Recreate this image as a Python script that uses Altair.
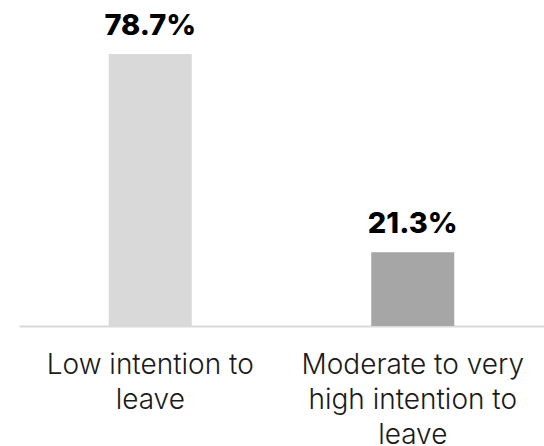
import altair as alt
import pandas as pd

categories = ["Low intention to|leave", "Moderate to very|high intention to|leave"]
shares = [78.7, 21.3]
value_labels = ["78.7%", "21.3%"]
bar_colors = ["#d9d9d9", "#a6a6a6"]

df = pd.DataFrame({
    "category": categories,
    "share": shares,
    "label": value_labels,
    "color": bar_colors,
})

x_enc = alt.X(
    "category:N",
    sort=categories,
    scale=alt.Scale(paddingInner=0, paddingOuter=0),
    axis=alt.Axis(
        title=None,
        labelAngle=0,
        ticks=False,
        domainColor="#d9d9d9",
        domainWidth=2,
        labelFont="Inter",
        labelFontWeight=300,
        labelFontSize=28,
        labelColor="#1a1a1a",
        labelLineHeight=35,
        labelBaseline="top",
        labelPadding=25,
        labelLimit=400,
        labelExpr="split(datum.label, '|')",
    ),
)
y_enc = alt.Y(
    "share:Q",
    scale=alt.Scale(domain=[0, 94.3], nice=False),
    axis=None,
)

bars = alt.Chart(df).mark_bar(size=83).encode(
    x=x_enc,
    y=y_enc,
    color=alt.Color("color:N", scale=None),
)

text = alt.Chart(df).mark_text(
    font="Inter",
    fontWeight=800,
    fontSize=29,
    color="#000000",
    baseline="alphabetic",
    dy=-19,
).encode(
    x=alt.X("category:N", sort=categories),
    y="share:Q",
    text="label:N",
)

chart = (bars + text).properties(
    width=525,
    height=326,
    background="white",
    padding={"left": 19, "top": 0, "right": 0, "bottom": 120},
    autosize=alt.AutoSizeParams(type="none"),
).configure_view(strokeWidth=0, strokeOpacity=0)

chart.save("out.html", embed_options={"renderer": "svg", "actions": False})
